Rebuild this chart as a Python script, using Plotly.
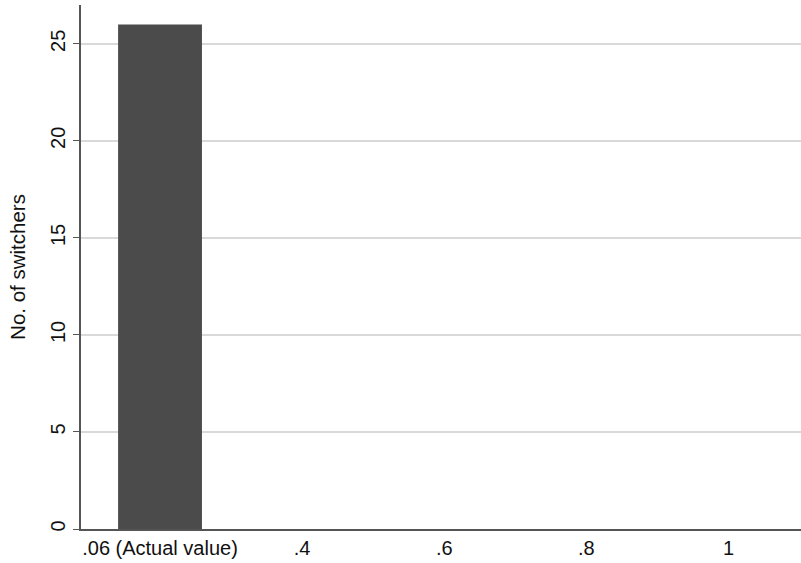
import plotly.graph_objects as go

categories = [".06 (Actual value)", ".4", ".6", ".8", "1"]
switchers = [26, 0, 0, 0, 0]
y_ticks = [0, 5, 10, 15, 20, 25]

fig = go.Figure(go.Bar(
    x=categories, y=switchers,
    marker=dict(color="#4b4b4b", line=dict(width=0)),
    width=0.59,
))

font = "Liberation Sans, Arial, sans-serif"
fig.update_layout(
    width=801, height=563,
    margin=dict(l=81, r=0, t=5, b=34, autoexpand=False),
    paper_bgcolor="white", plot_bgcolor="white",
    font=dict(family=font, size=20, color="#111"),
    showlegend=False,
)
fig.update_xaxes(
    type="category", range=[-0.556, 4.51],
    showline=True, linecolor="#555", linewidth=1.5,
    ticks="", showgrid=False, tickfont=dict(size=20),
    automargin=False,
)
fig.update_yaxes(
    range=[0, 27.0], tickvals=y_ticks,
    showline=True, linecolor="#555", linewidth=1.5,
    ticks="outside", ticklen=6, tickcolor="#555",
    showgrid=True, gridcolor="#d9d9d9", gridwidth=1.5,
    tickangle=-90, tickfont=dict(size=20),
    zeroline=False, automargin=False,
    title=dict(text="No. of switchers", font=dict(size=20.5), standoff=16),
)
fig.write_html(
    "out.html",
    config={"displayModeBar": False},
    post_script="document.body.style.margin='0';document.body.style.overflow='hidden';",
)
